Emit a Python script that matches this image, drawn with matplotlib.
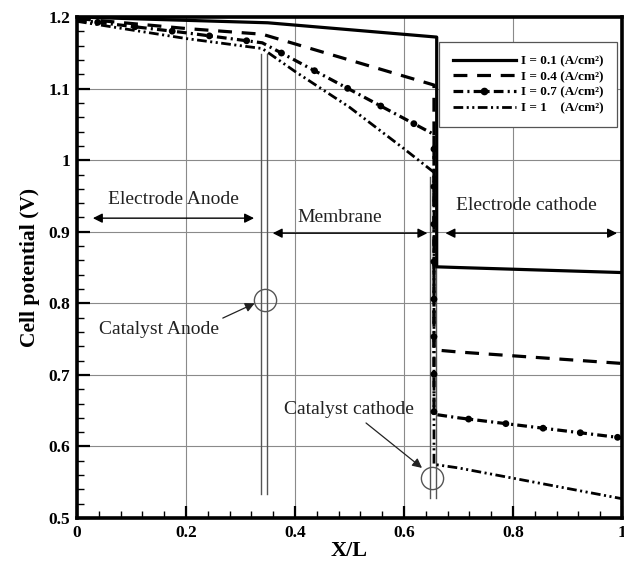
import matplotlib.pyplot as plt
from matplotlib.lines import Line2D
from matplotlib.ticker import MultipleLocator

plt.rcParams['font.family'] = ['Liberation Serif', 'DejaVu Serif']
plt.rcParams['lines.scale_dashes'] = False

# potential profiles along the cell, one per current density
x_01 = [0.0, 0.35, 0.66, 0.66, 0.70, 1.0]
v_01 = [1.200, 1.192, 1.172, 0.851, 0.850, 0.843]

x_04 = [0.0, 0.20, 0.34, 0.655, 0.655, 0.70, 1.0]
v_04 = [1.198, 1.184, 1.176, 1.105, 0.735, 0.732, 0.716]

x_07 = [0.0, 0.20, 0.34, 0.655, 0.655, 0.70, 1.0]
v_07 = [1.196, 1.178, 1.164, 1.036, 0.645, 0.640, 0.612]

x_10 = [0.0, 0.20, 0.34, 0.40, 0.50, 0.60, 0.655, 0.655, 0.70, 1.0]
v_10 = [1.194, 1.170, 1.156, 1.124, 1.074, 1.016, 0.983, 0.575, 0.570, 0.527]

labels = ['I = 0.1 (A/cm²)', 'I = 0.4 (A/cm²)', 'I = 0.7 (A/cm²)', 'I = 1    (A/cm²)']

# layer boundaries (catalyst layers drawn as thin double lines)
anode_cl_x = [0.337, 0.349]
anode_cl_y = [0.533, 1.148]
cathode_cl_x = [0.648, 0.659]
cathode_cl_y = [0.528, 0.977]

# circled catalyst locations
circle_x = [0.345, 0.651]
circle_y = [0.805, 0.556]

fig = plt.figure(figsize=(6.24, 5.61), dpi=100)
ax = fig.add_axes([0.1234, 0.0766, 0.8734, 0.893])

ax.set_xlim(0, 1)
ax.set_ylim(0.5, 1.2)
ax.xaxis.set_minor_locator(MultipleLocator(0.04))
ax.yaxis.set_minor_locator(MultipleLocator(0.02))
ax.set_xticks([0, 0.2, 0.4, 0.6, 0.8, 1.0])
ax.set_xticklabels(['0', '0.2', '0.4', '0.6', '0.8', '1'])
ax.set_yticks([0.5, 0.6, 0.7, 0.8, 0.9, 1.0, 1.1, 1.2])
ax.set_yticklabels(['0.5', '0.6', '0.7', '0.8', '0.9', '1', '1.1', '1.2'])
ax.grid(True, which='major', color='#8a8a8a', lw=0.8)
ax.set_axisbelow(True)

for sp in ax.spines.values():
    sp.set_linewidth(2.6)
ax.tick_params(which='major', direction='in', length=9, width=1.6,
               labelsize=12.5, pad=5)
ax.tick_params(which='minor', direction='in', length=5, width=1.0)
for lab in ax.get_xticklabels() + ax.get_yticklabels():
    lab.set_fontweight('bold')

# catalyst layer lines
for xc in anode_cl_x:
    ax.plot([xc, xc], anode_cl_y, color='#555555', lw=1.0, zorder=2)
for xc in cathode_cl_x:
    ax.plot([xc, xc], cathode_cl_y, color='#555555', lw=1.0, zorder=2)

ls_04 = (0, (10, 7))
ls_07 = (0, (7, 3, 1.5, 3))
ls_10 = (0, (7, 2.5, 1.5, 2.5, 1.5, 2.5))

ax.plot(x_01, v_01, color='black', lw=2.3, ls='-', zorder=4)
ax.plot(x_04, v_04, color='black', lw=2.3, ls=ls_04, zorder=4)
ax.plot(x_07, v_07, color='black', lw=2.3, ls=ls_07, zorder=4)
# round blobs repeating along the 0.7 A/cm2 curve
ax.plot(x_07, v_07, color='black', lw=5, ls=(12, (0.01, 27)),
        dash_capstyle='round', zorder=4)
ax.plot(x_10, v_10, color='black', lw=2.0, ls=ls_10, zorder=4)

ax.plot(circle_x, circle_y, ls='none', marker='o', ms=16, mfc='none',
        mec='#555555', mew=1.0, zorder=3)

# region spans
arrow_kw = dict(arrowstyle='<|-|>', color='black', lw=1.0, mutation_scale=14)
ax.annotate('', xy=(0.024, 0.919), xytext=(0.330, 0.919), arrowprops=arrow_kw)
ax.annotate('', xy=(0.354, 0.898), xytext=(0.648, 0.898), arrowprops=arrow_kw)
ax.annotate('', xy=(0.671, 0.898), xytext=(0.996, 0.898), arrowprops=arrow_kw)

txt_kw = dict(fontsize=14, color='#222222', ha='center', va='center')
ax.text(0.177, 0.945, 'Electrode Anode', **txt_kw)
ax.text(0.482, 0.920, 'Membrane', **txt_kw)
ax.text(0.825, 0.937, 'Electrode cathode', **txt_kw)

ax.annotate('Catalyst Anode', xy=(0.326, 0.800), xytext=(0.150, 0.763),
            fontsize=14, color='#222222', ha='center', va='center',
            arrowprops=dict(arrowstyle='-|>', color='#222222', lw=0.9,
                            mutation_scale=14, relpos=(0.93, 0.85),
                            shrinkA=1, shrinkB=0))
ax.annotate('Catalyst cathode', xy=(0.633, 0.570), xytext=(0.499, 0.651),
            fontsize=14, color='#222222', ha='center', va='center',
            arrowprops=dict(arrowstyle='-|>', color='#222222', lw=0.9,
                            mutation_scale=14, relpos=(0.58, 0.05),
                            shrinkA=2, shrinkB=0))

ax.set_xlabel('X/L', fontsize=16, fontweight='bold', labelpad=0)
ax.set_ylabel('Cell potential (V)', fontsize=15.5, fontweight='bold', labelpad=6)

handles = [
    Line2D([], [], color='black', lw=2.3, ls='-'),
    Line2D([], [], color='black', lw=2.3, ls=ls_04),
    Line2D([], [], color='black', lw=2.3, ls=ls_07, marker='o', ms=4.5),
    Line2D([], [], color='black', lw=2.0, ls=ls_10),
]
leg = ax.legend(handles, labels, loc='upper right', bbox_to_anchor=(0.991, 0.95),
                borderaxespad=0, fancybox=False, edgecolor='#555555', framealpha=1,
                handlelength=4.8, labelspacing=0.25, borderpad=1.0,
                handletextpad=0.4, prop={'size': 9.5, 'weight': 'bold'})
leg.get_frame().set_linewidth(0.9)

fig.savefig('out.png', dpi=100)
